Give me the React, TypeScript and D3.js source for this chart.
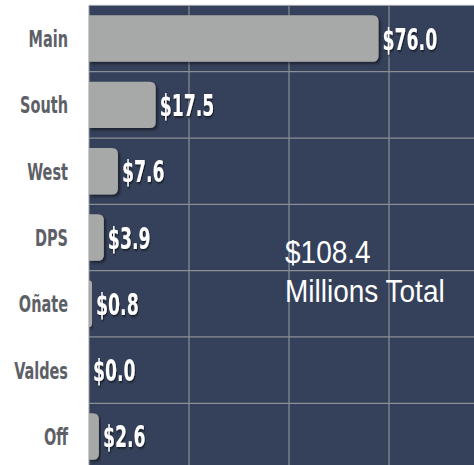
import React from "react";
import * as d3 from "d3";

const categories = ["Main", "South", "West", "DPS", "Oñate", "Valdes", "Off"];
const values = [76.0, 17.5, 7.6, 3.9, 0.8, 0.0, 2.6];
const valueLabels = ["$76.0", "$17.5", "$7.6", "$3.9", "$0.8", "$0.0", "$2.6"];
const totalLines = ["$108.4", "Millions Total"];
const gridValues = [26.25, 52.5, 78.75, 105];

const W = 474;
const H = 465;
const plotLeft = 89;
const plotTop = 5.4;
const plotBottom = 469.6;

export default function App() {
  const x = d3.scaleLinear().domain([0, 105]).range([plotLeft, plotLeft + 400]);
  const y = d3
    .scaleBand<string>()
    .domain(categories)
    .range([plotTop, plotBottom])
    .paddingInner(0.3)
    .paddingOuter(0.15);
  const step = y.step();
  const bw = y.bandwidth();

  const barPath = (v: number, yy: number) => {
    const x0 = x(0);
    const x1 = x(v);
    const w = x1 - x0;
    if (w <= 0) return "";
    const r = Math.min(6, w, bw / 2);
    return `M${x0},${yy} H${x1 - r} Q${x1},${yy} ${x1},${yy + r} V${yy + bw - r} Q${x1},${yy + bw} ${x1 - r},${yy + bw} H${x0} Z`;
  };

  return (
    <div style={{ position: "absolute", left: 0, top: 0 }}>
      <svg width={W} height={H} style={{ display: "block" }}>
        <defs>
          <filter id="txtShadow" x="-20%" y="-20%" width="140%" height="140%">
            <feDropShadow dx="1.5" dy="1.5" stdDeviation="1" floodColor="#000" floodOpacity="0.6" />
          </filter>
          <filter id="barShadow" x="-10%" y="-20%" width="130%" height="150%">
            <feDropShadow dx="2" dy="2" stdDeviation="1.5" floodColor="#000" floodOpacity="0.5" />
          </filter>
        </defs>
        <rect x={0} y={0} width={W} height={H} fill="#ffffff" />
        <rect x={plotLeft} y={plotTop} width={W - plotLeft} height={plotBottom - plotTop} fill="#35415a" />
        {categories.slice(1).map((c) => {
          const gy = (y(c) as number) - (step - bw) / 2;
          return <line key={"h" + c} x1={plotLeft} x2={W} y1={gy} y2={gy} stroke="#8a8e95" strokeWidth={1.2} />;
        })}
        {gridValues.map((g) => (
          <line key={"v" + g} x1={x(g)} x2={x(g)} y1={plotTop} y2={H} stroke="#8a8e95" strokeWidth={1.2} />
        ))}
        <line x1={plotLeft} x2={W} y1={plotTop} y2={plotTop} stroke="#9a9ea4" strokeWidth={1} />
        <line x1={plotLeft} x2={plotLeft} y1={plotTop} y2={H} stroke="#9a9ea4" strokeWidth={1} />
        {categories.map((c, i) => (
          <path key={"b" + c} d={barPath(values[i], y(c) as number)} fill="#a7a9a8" filter="url(#barShadow)" />
        ))}
        {categories.map((c, i) => {
          const cy = (y(c) as number) + bw / 2;
          return (
            <text
              key={"l" + c}
              transform={`translate(${x(values[i]) + 4},${cy + 11}) scale(0.62,1)`}
              fontFamily="'DejaVu Sans Condensed', 'DejaVu Sans', sans-serif"
              fontWeight="bold"
              fontSize={31}
              fill="#ffffff"
              filter="url(#txtShadow)"
            >
              {valueLabels[i]}
            </text>
          );
        })}
        {categories.map((c) => {
          const cy = (y(c) as number) + bw / 2;
          return (
            <text
              key={"c" + c}
              transform={`translate(68,${cy + 8.5}) scale(0.7,1)`}
              textAnchor="end"
              fontFamily="'DejaVu Sans Condensed', 'DejaVu Sans', sans-serif"
              fontWeight="bold"
              fontSize={23}
              fill="#5d6066"
            >
              {c}
            </text>
          );
        })}
        {totalLines.map((t, i) => (
          <text
            key={"t" + i}
            transform={`translate(285,${263 + i * 39}) scale(1,1.15)`}
            fontFamily="'Liberation Sans', Arial, sans-serif"
            fontSize={28}
            fill="#ffffff"
          >
            {t}
          </text>
        ))}
      </svg>
    </div>
  );
}
